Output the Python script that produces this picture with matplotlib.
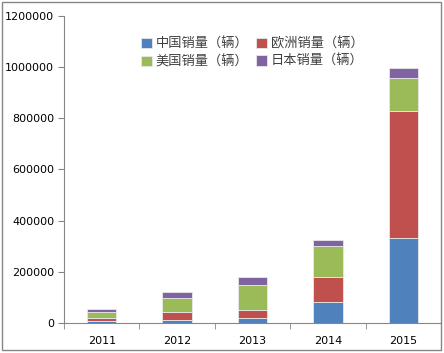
import matplotlib
matplotlib.use("Agg")
import numpy as np
from matplotlib import pyplot as plt
from matplotlib.patches import Rectangle

plt.rcParams["font.family"] = ["DejaVu Sans", "Noto Sans CJK SC"]

years = ["2011", "2012", "2013", "2014", "2015"]
china = [9000, 13000, 19600, 81000, 333000]
europe = [10600, 28800, 32700, 99400, 497000]
usa = [22200, 56200, 96700, 118900, 128000]
japan = [11800, 23700, 32700, 23500, 39000]

series = [
    ("中国销量（辆）", china, "#4F81BD"),
    ("欧洲销量（辆）", europe, "#C0504D"),
    ("美国销量（辆）", usa, "#9BBB59"),
    ("日本销量（辆）", japan, "#8064A2"),
]

fig = plt.figure(figsize=(4.44, 3.53), dpi=100)
ax = fig.add_axes([64 / 444, 30 / 353, 377 / 444, 307 / 353])

x = np.arange(len(years))
bottom = np.zeros(len(years))
handles = []
for name, vals, col in series:
    b = ax.bar(x, vals, width=0.39, bottom=bottom, color=col,
               edgecolor="#e8e8e8", linewidth=0.6, label=name)
    handles.append(b)
    bottom += np.array(vals)

ax.set_xlim(-0.5, len(years) - 0.5)
ax.set_ylim(0, 1200000)
ax.set_yticks(np.arange(0, 1200001, 200000))
ax.set_yticklabels([str(v) for v in range(0, 1200001, 200000)], fontsize=8)
ax.set_xticks(x)
ax.set_xticklabels(years, fontsize=8)
ax.set_xticks(np.arange(-0.5, len(years) - 1, 1), minor=True)
ax.tick_params(axis="x", which="major", length=0, pad=9)
ax.tick_params(axis="x", which="minor", length=4, color="#868686")
ax.tick_params(axis="y", length=4, color="#868686", pad=3)

for s in ["top", "right"]:
    ax.spines[s].set_visible(False)
for s in ["left", "bottom"]:
    ax.spines[s].set_color("#868686")

# row-major order like the original: 中国, 欧洲 / 美国, 日本
order = [handles[0], handles[2], handles[1], handles[3]]
labels = [series[0][0], series[2][0], series[1][0], series[3][0]]
leg = ax.legend(order, labels, ncol=2, loc="upper center",
                bbox_to_anchor=(0.5, 0.97), frameon=False,
                prop={"family": ["Noto Sans CJK SC"], "size": 9.5},
                handlelength=0.8, handleheight=0.8, handletextpad=0.3,
                columnspacing=0.6, labelspacing=0.35)
for t in leg.get_texts():
    t.set_color("#404040")

fig.patches.append(Rectangle((2 / 444, 3 / 353), 439 / 444, 348 / 353,
                             transform=fig.transFigure, fill=False,
                             edgecolor="#868686", linewidth=1.0))

fig.savefig("out.png", dpi=100)
